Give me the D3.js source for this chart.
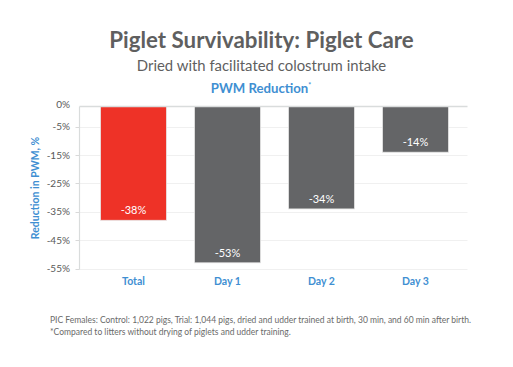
<!DOCTYPE html>
<html><head><meta charset="utf-8">
<script src="https://cdn.jsdelivr.net/npm/d3@7"></script>
<style>
html,body{margin:0;padding:0;background:#fff;}
text{font-family:Lato,"Open Sans",sans-serif;}
</style></head>
<body><svg id="c" width="513" height="367"></svg>
<script>
const categories = ["Total", "Day 1", "Day 2", "Day 3"];
const values = [-38, -53, -34, -14];
const valueLabels = ["-38%", "-53%", "-34%", "-14%"];
const tickValues = [-5, -15, -25, -35, -45, -55];
const tickLabels = ["-5%", "-15%", "-25%", "-35%", "-45%", "-55%"];
const topLabel = "0%";
const colors = ["#ee3227", "#646567", "#646567", "#646567"];

const svg = d3.select("#c");
const plotTop = 106.5, plotLeft = 79.5, plotRight = 467.5;

const x = d3.scaleBand().domain(categories).range([86.5, 462.5]).paddingInner(0.298).paddingOuter(0.149);
const y = d3.scaleLinear().domain([0, -55]).range([112.5, 268.5]);

// titles
svg.append("text").attr("x", 261.5).attr("y", 48).attr("text-anchor", "middle")
  .attr("font-size", 22.3).attr("font-weight", "bold").attr("fill", "#5f5f5f")
  .text("Piglet Survivability: Piglet Care");
svg.append("text").attr("x", 261.5).attr("y", 71).attr("text-anchor", "middle")
  .attr("font-size", 14.9).attr("fill", "#5f5f5f")
  .text("Dried with facilitated colostrum intake");
const st = svg.append("text").attr("x", 261).attr("y", 93).attr("text-anchor", "middle")
  .attr("font-size", 13.2).attr("font-weight", "bold").attr("fill", "#3f8fd2");
st.append("tspan").text("PWM Reduction");
st.append("tspan").attr("font-size", 7).attr("dy", -5).text("*");

// gridlines
svg.append("g").selectAll("line").data(tickValues).join("line")
  .attr("x1", plotLeft).attr("x2", plotRight)
  .attr("y1", d => Math.round(y(d)) + 0.5).attr("y2", d => Math.round(y(d)) + 0.5)
  .attr("stroke", "#f0f0f0").attr("stroke-width", 1);
// tick marks
svg.append("g").selectAll("line").data(tickValues).join("line")
  .attr("x1", plotLeft - 4).attr("x2", plotLeft)
  .attr("y1", d => Math.round(y(d)) + 0.5).attr("y2", d => Math.round(y(d)) + 0.5)
  .attr("stroke", "#d9d9d9");
// left axis line
svg.append("line").attr("x1", plotLeft).attr("x2", plotLeft).attr("y1", plotTop).attr("y2", y(-55) + 1)
  .attr("stroke", "#d9dcdc").attr("stroke-width", 1.2);

// tick labels
svg.append("g").selectAll("text").data(tickValues).join("text")
  .attr("x", 70).attr("y", d => y(d) + 3.5).attr("text-anchor", "end")
  .attr("font-size", 10).attr("fill", "#595959")
  .text((d, i) => tickLabels[i]);
svg.append("text").attr("x", 70).attr("y", plotTop + 1.5).attr("text-anchor", "end")
  .attr("font-size", 10).attr("fill", "#595959").text(topLabel);

// bars
svg.append("g").selectAll("rect").data(values).join("rect")
  .attr("x", (d, i) => x(categories[i]))
  .attr("y", plotTop)
  .attr("width", x.bandwidth())
  .attr("height", d => y(d) - plotTop)
  .attr("fill", (d, i) => colors[i])
  .attr("stroke", "#e6e6e6").attr("stroke-width", 0.8);

// top axis line
svg.append("line").attr("x1", plotLeft).attr("x2", plotRight).attr("y1", plotTop).attr("y2", plotTop)
  .attr("stroke", "#d9dcdc").attr("stroke-width", 1.5);

// value labels
svg.append("g").selectAll("text").data(values).join("text")
  .attr("x", (d, i) => x(categories[i]) + x.bandwidth() / 2)
  .attr("y", d => y(d) - 6).attr("text-anchor", "middle")
  .attr("font-size", 11).attr("fill", "#ffffff")
  .text((d, i) => valueLabels[i]);

// category labels
svg.append("g").selectAll("text").data(categories).join("text")
  .attr("x", d => x(d) + x.bandwidth() / 2).attr("y", 285).attr("text-anchor", "middle")
  .attr("font-size", 10.5).attr("font-weight", "bold").attr("fill", "#3f8fd2")
  .text(d => d);

// y axis title
svg.append("text").attr("transform", "translate(39,188) rotate(-90)").attr("text-anchor", "middle")
  .attr("font-size", 10.5).attr("font-weight", "bold").attr("fill", "#3f8fd2")
  .text("Reduction in PWM, %");

// footnotes
svg.append("text").attr("x", 50).attr("y", 323).attr("font-size", 8.5).attr("textLength", 421).attr("fill", "#6a6a6a")
  .text("PIC Females: Control: 1,022 pigs, Trial: 1,044 pigs, dried and udder trained at birth, 30 min, and 60 min after birth.");
svg.append("text").attr("x", 50).attr("y", 335).attr("font-size", 8.5).attr("fill", "#6a6a6a")
  .text("*Compared to litters without drying of piglets and udder training.");
</script></body></html>
